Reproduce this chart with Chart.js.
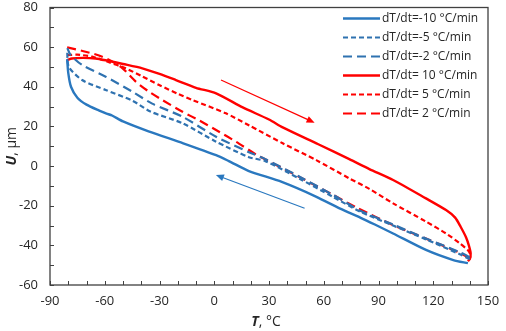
<!DOCTYPE html>
<html><head><meta charset="utf-8">
<script src="https://cdn.jsdelivr.net/npm/chart.js@4.4.1/dist/chart.umd.min.js"></script>
<style>html,body{margin:0;padding:0;background:#fff}#wrap{width:506px;height:331px}</style>
</head><body><div id="wrap"><canvas id="c" width="506" height="331"></canvas></div>
<script>
// ---- data ----
const xTickValues = [-90, -60, -30, 0, 30, 60, 90, 120, 150];
const yTickValues = [-60, -40, -20, 0, 20, 40, 60, 80];
const seriesNames = ['dT/dt=-10 °C/min', 'dT/dt=-5 °C/min', 'dT/dt=-2 °C/min',
                     'dT/dt= 10 °C/min', 'dT/dt= 5 °C/min', 'dT/dt= 2 °C/min'];

const T_m10 = [139, 131, 116, 98, 88, 80, 69, 56, 37, 19, 8, 1, -17, -36, -50, -56, -59, -63, -70, -75, -78.5, -80, -80.6];
const U_m10 = [-49, -47.4, -42.3, -34, -29.5, -26, -21.5, -15.5, -8, -2.5, 2.5, 5.5, 11.5, 17.5, 22.5, 25.5, 26.5, 28, 31, 34.5, 40, 47, 54];

const T_m5 = [140, 134.6, 116, 98, 80, 65, 47, 28, 19, 1, -17.4, -35, -44.9, -59.5, -72.4, -79.7, -80.6];
const U_m5 = [-47, -44.5, -37, -30, -23, -15.5, -6.5, 2.5, 4.5, 12.3, 21.6, 27.5, 33, 38.4, 43.4, 50.1, 58];

const T_m2 = [140, 134.6, 116, 98, 80, 65, 47, 28, 19, 1, -17.4, -34, -44.9, -59.5, -72.4, -78.7, -80.5];
const U_m2 = [-46, -43.5, -36.5, -29.5, -22.5, -14.5, -5.5, 3.5, 7, 14.8, 24.9, 31.5, 37.5, 45.1, 51, 56, 59.5];

const T_p10 = [-80.6, -78, -72, -65, -58.6, -50, -39.4, -30, -21, -10, 1, 15.6, 30, 37.5, 57, 74, 85, 98, 116, 127, 132, 135, 138, 139.5, 140.5, 140, 139];
const U_p10 = [53.5, 54.3, 54.6, 54.3, 53.2, 51.5, 49.3, 46.5, 43.4, 39.5, 36.7, 29.6, 23.5, 19.5, 11, 3.5, -1.5, -7, -16.3, -22.2, -26, -30.6, -36, -40, -44, -47, -48];

const T_p5 = [-80.6, -75, -67, -58, -48.5, -40, -30.2, -20, -11.9, 6.4, 19.2, 37.5, 55.9, 74, 85, 98, 116, 127, 134.6, 139, 140.5, 140];
const U_p5 = [56, 56.2, 55.2, 52.5, 49.3, 45.5, 40.9, 36.5, 33.3, 26.6, 20.5, 11.5, 3, -6.2, -11.5, -18.8, -28, -34, -39, -42.5, -45, -47];

const T_p2 = [-80.6, -70.5, -61.4, -51.2, -43, -35.7, -28.4, -17.4, -8.2, 1, 11.9, 23, 28.4, 46.7, 65, 77.8, 98, 116, 134.6, 139.5, 140.5];
const U_p2 = [59.9, 57.7, 55.2, 50.1, 42.6, 37.5, 33.3, 27.4, 23, 18.2, 12.3, 5.8, 3.2, -5.5, -14.5, -20.8, -29.8, -36.6, -43.8, -46.5, -48.5];

// arrow annotations (data coordinates: start -> tip)
const heatArrowT = [3.7, 55];
const heatArrowU = [43.4, 21.9];
const coolArrowT = [49.5, 0.9];
const coolArrowU = [-21.3, -4.5];

// ---- build ----
const BLUE = '#2a78bf', BLUE_D = '#2f72b0', RED = '#ff0000';
const FONT = "'Open Sans', sans-serif";
const pts = (T, U) => T.map((t, i) => ({x: t, y: U[i]}));
const styles = [
  {c: BLUE, w: 2.4, d: []},
  {c: BLUE_D, w: 2.2, d: [5, 3]},
  {c: BLUE_D, w: 2.2, d: [9, 5]},
  {c: RED, w: 2.4, d: []},
  {c: RED, w: 2.2, d: [5, 3]},
  {c: RED, w: 2.2, d: [9, 5]},
];
const series = [[T_m10, U_m10], [T_m5, U_m5], [T_m2, U_m2], [T_p10, U_p10], [T_p5, U_p5], [T_p2, U_p2]];
const datasets = series.map((s, i) => ({
  label: seriesNames[i], data: pts(s[0], s[1]), showLine: true, pointRadius: 0,
  borderColor: styles[i].c, borderWidth: styles[i].w, borderDash: styles[i].d,
  tension: 0.25, fill: false
}));

const decor = {
  id: 'decor',
  afterDatasetsDraw(chart) {
    const {ctx, chartArea: a, scales: {x, y}} = chart;
    ctx.save();
    // frame
    ctx.strokeStyle = '#404040'; ctx.lineWidth = 1.3; ctx.setLineDash([]);
    ctx.strokeRect(a.left, a.top, a.right - a.left, a.bottom - a.top);
    // inward ticks every 10
    ctx.lineWidth = 1;
    ctx.beginPath();
    for (let v = x.min; v <= x.max; v += 10) {
      const px = Math.round(x.getPixelForValue(v)) + 0.5;
      ctx.moveTo(px, a.bottom); ctx.lineTo(px, a.bottom - 4);
    }
    for (let v = y.min; v <= y.max; v += 10) {
      const py = Math.round(y.getPixelForValue(v)) + 0.5;
      ctx.moveTo(a.left, py); ctx.lineTo(a.left + 4, py);
    }
    ctx.stroke();
    // arrows
    const arrow = (T, U, col) => {
      const x0 = x.getPixelForValue(T[0]), y0 = y.getPixelForValue(U[0]);
      const x1 = x.getPixelForValue(T[1]), y1 = y.getPixelForValue(U[1]);
      const ang = Math.atan2(y1 - y0, x1 - x0);
      ctx.strokeStyle = col; ctx.fillStyle = col; ctx.lineWidth = 1.2;
      ctx.beginPath(); ctx.moveTo(x0, y0);
      ctx.lineTo(x1 - 5 * Math.cos(ang), y1 - 5 * Math.sin(ang)); ctx.stroke();
      ctx.beginPath(); ctx.moveTo(x1, y1);
      ctx.lineTo(x1 - 8 * Math.cos(ang) + 3.5 * Math.sin(ang), y1 - 8 * Math.sin(ang) - 3.5 * Math.cos(ang));
      ctx.lineTo(x1 - 8 * Math.cos(ang) - 3.5 * Math.sin(ang), y1 - 8 * Math.sin(ang) + 3.5 * Math.cos(ang));
      ctx.closePath(); ctx.fill();
    };
    arrow(heatArrowT, heatArrowU, RED);
    arrow(coolArrowT, coolArrowU, BLUE);
    // legend
    ctx.font = '12px ' + FONT; ctx.textBaseline = 'middle'; ctx.textAlign = 'left';
    chart.data.datasets.forEach((ds, i) => {
      const ly = 18.5 + i * 19;
      ctx.strokeStyle = ds.borderColor; ctx.lineWidth = ds.borderWidth;
      ctx.setLineDash(ds.borderDash);
      ctx.beginPath(); ctx.moveTo(343, ly); ctx.lineTo(380, ly); ctx.stroke();
      ctx.setLineDash([]);
      ctx.fillStyle = '#262626';
      ctx.fillText(ds.label, 382, ly);
    });
    // axis titles
    const title = (bold, rest, cx, cy, rot) => {
      ctx.save(); ctx.translate(cx, cy); ctx.rotate(rot);
      ctx.fillStyle = '#262626'; ctx.textBaseline = 'middle'; ctx.textAlign = 'left';
      ctx.font = 'italic bold 14px ' + FONT; const w1 = ctx.measureText(bold).width;
      ctx.font = '14px ' + FONT; const w2 = ctx.measureText(rest).width;
      let sx = -(w1 + w2) / 2;
      ctx.font = 'italic bold 14px ' + FONT; ctx.fillText(bold, sx, 0);
      ctx.font = '14px ' + FONT; ctx.fillText(rest, sx + w1, 0);
      ctx.restore();
    };
    title('T', ', °C', (a.left + a.right) / 2 - 3, 322, 0);
    title('U', ', μm', 12, (a.top + a.bottom) / 2, -Math.PI / 2);
    ctx.restore();
  }
};

new Chart(document.getElementById('c'), {
  type: 'scatter',
  data: {datasets},
  options: {
    responsive: false, animation: false, devicePixelRatio: 1,
    layout: {padding: {top: 7.5, right: 18, left: 0, bottom: 0}},
    plugins: {legend: {display: false}, tooltip: {enabled: false}},
    scales: {
      x: {
        type: 'linear', min: -90, max: 150,
        afterBuildTicks: s => { s.ticks = xTickValues.map(v => ({value: v})); },
        ticks: {font: {family: FONT, size: 13}, color: '#262626', padding: 8, maxRotation: 0},
        grid: {display: false, drawTicks: false}, border: {display: false},
        afterFit: s => { s.height = 46; s.paddingLeft = 0; s.paddingRight = 0; }
      },
      y: {
        type: 'linear', min: -60, max: 80,
        afterBuildTicks: s => { s.ticks = yTickValues.map(v => ({value: v})); },
        ticks: {font: {family: FONT, size: 13}, color: '#262626', padding: 12},
        grid: {display: false, drawTicks: false}, border: {display: false},
        afterFit: s => { s.width = 50; s.paddingTop = 0; s.paddingBottom = 0; }
      }
    }
  },
  plugins: [decor]
});
</script></body></html>
